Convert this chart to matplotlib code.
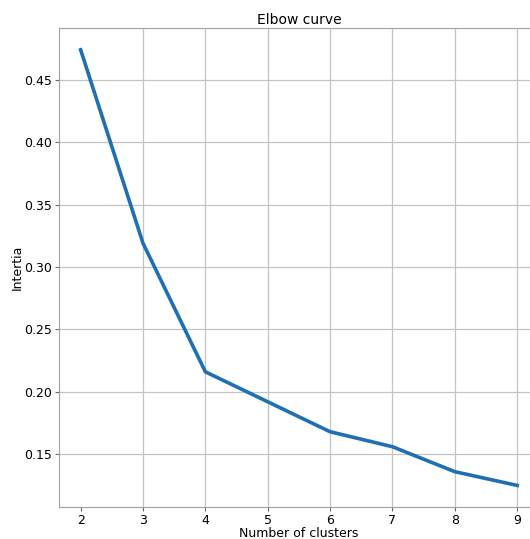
import matplotlib
matplotlib.use('Agg')
import matplotlib.pyplot as plt

clusters = [2, 3, 4, 5, 6, 7, 8, 9]
inertia = [0.474, 0.319, 0.216, 0.192, 0.168, 0.156, 0.136, 0.125]

fig = plt.figure(figsize=(5.30, 5.39), dpi=100)
ax = fig.add_axes([0.111, 0.059, 0.906, 0.889])

ax.plot(clusters, inertia, color='#1f6fb2', linewidth=2.6)
ax.set_xticks(clusters)
ax.set_title('Elbow curve', fontsize=10, pad=3)
ax.set_xlabel('Number of clusters', fontsize=9, labelpad=0)
ax.set_ylabel('Intertia', fontsize=9, labelpad=0)
ax.tick_params(labelsize=9, color='#666666', length=3, pad=2)
ax.grid(True, color='#c4c4c4', linewidth=0.9)
# the first vertical grid line is not drawn in the original
ax.get_xgridlines()[0].set_visible(False)

for side in ['left', 'bottom', 'top']:
    ax.spines[side].set_color('#a0a0a0')
ax.spines['right'].set_visible(False)

fig.savefig('out.png', dpi=100)
